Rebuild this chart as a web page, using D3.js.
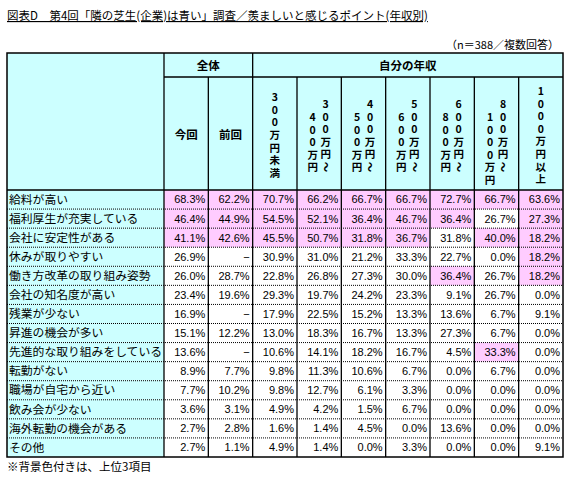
<!DOCTYPE html>
<html><head><meta charset="utf-8">
<script src="https://cdn.jsdelivr.net/npm/d3@7"></script>
<style>
body{margin:0;background:#fff;}
text{font-family:"Noto Sans CJK JP","Noto Sans",sans-serif;fill:#000;}
.num{font-family:"Liberation Sans",Arial,sans-serif;font-size:11px;}
</style></head><body>
<div id="chart"></div>
<script>
// Data
var items = ["給料が高い","福利厚生が充実している","会社に安定性がある","休みが取りやすい","働き方改革の取り組み姿勢",
  "会社の知名度が高い","残業が少ない","昇進の機会が多い","先進的な取り組みをしている","転勤がない",
  "職場が自宅から近い","飲み会が少ない","海外転勤の機会がある","その他"];
var columns = ["今回","前回","300万円未満","300～400万円","400～500万円","500～600万円","600～800万円","800～1000万円","1000万円以上"];
// header text, as vertical stacks (right stack, left stack)
var colHeads = [
  [["今回"]], [["前回"]],
  [["3","0","0","万","円","未","満"]],
  [["3","0","0","万","円","～"],["4","0","0","万","円"]],
  [["4","0","0","万","円","～"],["5","0","0","万","円"]],
  [["5","0","0","万","円","～"],["6","0","0","万","円"]],
  [["6","0","0","万","円","～"],["8","0","0","万","円"]],
  [["8","0","0","万","円","～"],["1","0","0","0","万","円"]],
  [["1","0","0","0","万","円","以","上"]]
];
// null = "−"
var values = [
  [68.3,62.2,70.7,66.2,66.7,66.7,72.7,66.7,63.6],
  [46.4,44.9,54.5,52.1,36.4,46.7,36.4,26.7,27.3],
  [41.1,42.6,45.5,50.7,31.8,36.7,31.8,40.0,18.2],
  [26.9,null,30.9,31.0,21.2,33.3,22.7,0.0,18.2],
  [26.0,28.7,22.8,26.8,27.3,30.0,36.4,26.7,18.2],
  [23.4,19.6,29.3,19.7,24.2,23.3,9.1,26.7,0.0],
  [16.9,null,17.9,22.5,15.2,13.3,13.6,6.7,9.1],
  [15.1,12.2,13.0,18.3,16.7,13.3,27.3,6.7,0.0],
  [13.6,null,10.6,14.1,18.2,16.7,4.5,33.3,0.0],
  [8.9,7.7,9.8,11.3,10.6,6.7,0.0,6.7,0.0],
  [7.7,10.2,9.8,12.7,6.1,3.3,0.0,0.0,0.0],
  [3.6,3.1,4.9,4.2,1.5,6.7,0.0,0.0,0.0],
  [2.7,2.8,1.6,1.4,4.5,0.0,13.6,0.0,0.0],
  [2.7,1.1,4.9,1.4,0.0,3.3,0.0,0.0,9.1]
];

var W = 571, H = 480;
var left = 7, labelW = 157, right = 563;
var top0 = 53, h1 = 77, h2 = 190, bottom = 457;
var cyan = "#ccffff", pink = "#ffccff";

var svg = d3.select("#chart").append("svg").attr("width", W).attr("height", H);

var x = d3.scaleBand().domain(d3.range(columns.length)).range([left + labelW, right]);
var y = d3.scaleBand().domain(d3.range(items.length)).range([h2, bottom]);

// top 3 (ties included) per column
var thresh = columns.map(function(c, j) {
  var v = values.map(function(r){ return r[j]; }).filter(function(d){ return d != null; }).sort(d3.descending);
  return v[2];
});

// title
svg.append("text").attr("x", left).attr("y", 20).attr("font-size", 11.5)
  .attr("text-decoration", "underline")
  .text("図表D　第4回「隣の芝生(企業)は青い」調査／羨ましいと感じるポイント(年収別)");
svg.append("text").attr("x", right - 4).attr("y", 49).attr("font-size", 11).attr("text-anchor", "end")
  .text("（n＝388／複数回答）");

// header background
svg.append("rect").attr("x", left).attr("y", top0).attr("width", right - left).attr("height", h2 - top0)
  .attr("fill", cyan);
svg.append("text").attr("x", (x(0) + x(1) + x.bandwidth()) / 2).attr("y", 70).attr("font-size", 11.5)
  .attr("font-weight", "bold").attr("text-anchor", "middle").text("全体");
svg.append("text").attr("x", (x(2) + right) / 2).attr("y", 70).attr("font-size", 11.5)
  .attr("font-weight", "bold").attr("text-anchor", "middle").text("自分の年収");

var pitch = 12.6;
colHeads.forEach(function(stacks, j) {
  var cx = x(j) + x.bandwidth() / 2;
  if (j < 2) {
    svg.append("text").attr("x", cx).attr("y", 139).attr("font-size", 11.5).attr("font-weight", "bold")
      .attr("text-anchor", "middle").text(stacks[0][0]);
    return;
  }
  stacks.forEach(function(chars, k) {
    var sx = stacks.length === 1 ? cx : (k === 0 ? cx + 6.5 : cx - 6.5);
    var startY = stacks.length === 1 ? (135 - (chars.length - 1) * pitch / 2) : (k === 0 ? 104 : 117);
    chars.forEach(function(ch, i) {
      var t = svg.append("text").attr("font-size", 10.5).attr("font-weight", "bold")
        .attr("text-anchor", "middle").text(ch);
      var yy = startY + i * pitch;
      if (ch === "～") t.attr("transform", "translate(" + sx + "," + yy + ") rotate(90)").attr("dy", "0.35em");
      else t.attr("x", sx).attr("y", yy + 4);
    });
  });
});

// body rows
var rows = svg.append("g").selectAll("g").data(values).enter().append("g");
rows.append("rect").attr("x", left).attr("y", function(d, i){ return y(i); })
  .attr("width", labelW).attr("height", y.bandwidth()).attr("fill", cyan);
rows.append("text").attr("x", left + 2).attr("y", function(d, i){ return y(i) + y.bandwidth() / 2; })
  .attr("dy", "0.36em").attr("font-size", 11.8)
  .text(function(d, i){ return items[i]; });

rows.each(function(r, i) {
  var g = d3.select(this);
  r.forEach(function(v, j) {
    if (v != null && v >= thresh[j]) {
      g.append("rect").attr("x", x(j)).attr("y", y(i)).attr("width", x.bandwidth()).attr("height", y.bandwidth())
        .attr("fill", pink);
    }
    g.append("text").attr("class", "num").attr("x", x(j) + x.bandwidth() - 3)
      .attr("y", y(i) + y.bandwidth() / 2).attr("dy", "0.36em").attr("text-anchor", "end")
      .text(v == null ? "−" : v.toFixed(1) + "%");
  });
});

// grid lines
var lines = svg.append("g").attr("stroke", "#000").attr("fill", "none");
d3.range(1, items.length).forEach(function(i) {
  lines.append("line").attr("x1", left).attr("x2", right).attr("y1", y(i)).attr("y2", y(i))
    .attr("stroke-width", 1).attr("stroke-dasharray", "1,1");
});
lines.append("line").attr("x1", left).attr("x2", right).attr("y1", h2).attr("y2", h2).attr("stroke-width", 1.3);
lines.append("line").attr("x1", left + labelW).attr("x2", right).attr("y1", h1).attr("y2", h1).attr("stroke-width", 1.3);
lines.append("line").attr("x1", left + labelW).attr("x2", left + labelW).attr("y1", top0).attr("y2", bottom).attr("stroke-width", 1.3);
d3.range(1, columns.length).forEach(function(j) {
  var y1 = (j === 1 || j > 2) ? h1 : top0;
  lines.append("line").attr("x1", x(j)).attr("x2", x(j)).attr("y1", y1).attr("y2", bottom).attr("stroke-width", 1.3);
});
lines.append("rect").attr("x", left).attr("y", top0).attr("width", right - left).attr("height", bottom - top0)
  .attr("stroke-width", 1.5);

svg.append("text").attr("x", left).attr("y", 471).attr("font-size", 11.5).text("※背景色付きは、上位3項目");
</script></body></html>
